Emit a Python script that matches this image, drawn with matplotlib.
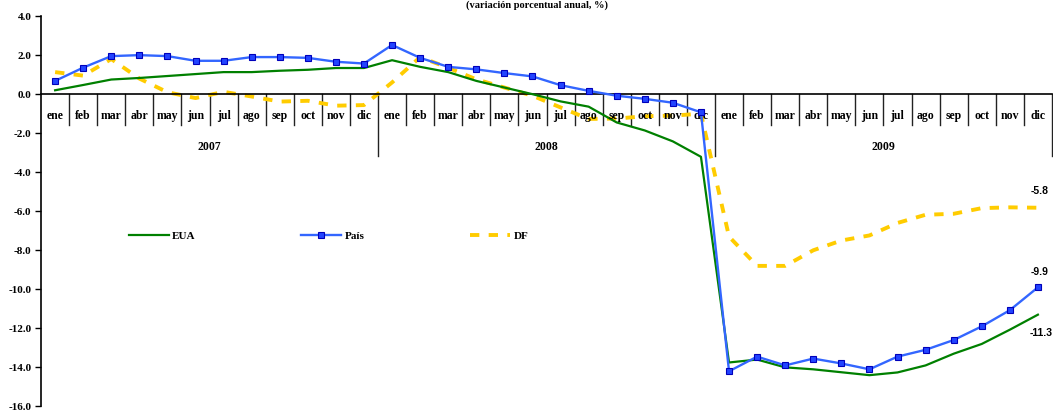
import matplotlib
matplotlib.use("Agg")
import matplotlib.pyplot as plt

# Data (variacion anual, %)
months = ["ene", "feb", "mar", "abr", "may", "jun", "jul", "ago", "sep", "oct", "nov", "dic"]
years = ["2007", "2008", "2009"]

eua = [0.20, 0.47, 0.75, 0.83, 0.93, 1.03, 1.13, 1.13, 1.20, 1.25, 1.34, 1.34,
       1.74, 1.40, 1.13, 0.68, 0.34, 0.00, -0.37, -0.64, -1.45, -1.86, -2.42, -3.21,
       -13.75, -13.60, -14.00, -14.10, -14.25, -14.40, -14.26, -13.90, -13.30, -12.80, -12.07, -11.30]

pais = [0.68, 1.36, 1.95, 2.00, 1.95, 1.71, 1.71, 1.90, 1.90, 1.86, 1.66, 1.57,
        2.52, 1.86, 1.40, 1.27, 1.08, 0.91, 0.46, 0.17, -0.08, -0.24, -0.44, -0.93,
        -14.20, -13.45, -13.90, -13.55, -13.80, -14.10, -13.45, -13.10, -12.60, -11.90, -11.07, -9.90]

df = [1.13, 0.95, 1.80, 0.80, 0.10, -0.20, 0.12, -0.12, -0.38, -0.34, -0.59, -0.56,
      0.60, 1.90, 1.35, 0.76, 0.34, -0.08, -0.68, -1.27, -1.25, -1.13, -1.10, -1.00,
      -7.30, -8.80, -8.80, -8.00, -7.50, -7.24, -6.60, -6.18, -6.13, -5.84, -5.80, -5.82]

end_labels = ["-5.8", "-9.9", "-11.3"]

serif = "Liberation Serif"

fig = plt.figure(figsize=(10.53, 4.13), dpi=100)
ax = fig.add_axes([0.039, 0.016, 0.960, 0.945])

x = list(range(len(eua)))
ax.plot(x, eua, color="#008000", lw=1.6, label="EUA", zorder=3)
ax.plot(x, pais, color="#3366ff", lw=1.7, marker="s", markersize=5,
        markerfacecolor="#2244ff", markeredgecolor="#0000bb", markeredgewidth=0.8,
        label="País", zorder=4)
ax.plot(x, df, color="#ffcc00", lw=2.8, linestyle=(0, (2.4, 2.4)), label="DF", zorder=2)

ax.set_xlim(-0.5, len(eua) - 0.5)
ax.set_ylim(-16, 4)
ax.set_yticks(range(-16, 5, 2))
ax.set_yticklabels([f"{v:.1f}" for v in range(-16, 5, 2)],
                   fontfamily=serif, fontweight="bold", fontsize=8)
ax.tick_params(axis="y", direction="out", length=4, width=1, pad=3)

for s in ["top", "right"]:
    ax.spines[s].set_visible(False)
ax.spines["bottom"].set_position(("data", 0))
ax.spines["left"].set_linewidth(1.2)
ax.spines["bottom"].set_linewidth(1.2)
ax.set_xticks([])

# month labels and separators
for i in range(len(eua)):
    ax.text(i, -1.12, months[i % 12], ha="center", va="center",
            fontfamily=serif, fontweight="bold", fontsize=8.5)
for i in range(1, len(eua) + 1):
    bottom = -3.15 if i % 12 == 0 else -1.57
    ax.plot([i - 0.5, i - 0.5], [0, bottom], color="#222222", lw=1.0,
            clip_on=False, zorder=1)
for k, yr in enumerate(years):
    ax.text(12 * k + 5.5, -2.7, yr, ha="center", va="center",
            fontfamily=serif, fontweight="bold", fontsize=8.5)

# end labels
last = len(eua) - 1
ax.text(last + 0.05, df[-1] + 0.85, end_labels[0], ha="center", va="center",
        fontfamily="Liberation Sans", fontweight="bold", fontsize=7.5)
ax.text(last + 0.05, pais[-1] + 0.8, end_labels[1], ha="center", va="center",
        fontfamily="Liberation Sans", fontweight="bold", fontsize=7.5)
ax.text(last + 0.1, eua[-1] - 0.95, end_labels[2], ha="center", va="center",
        fontfamily="Liberation Sans", fontweight="bold", fontsize=7.5, clip_on=False)

# title (cut off at the top in the original)
fig.text(0.51, 0.998, "(variación porcentual anual, %)", ha="center", va="top",
         fontfamily=serif, fontweight="bold", fontsize=7.5)

ax.legend(loc="upper left", bbox_to_anchor=(0.077, 0.475), ncol=3, frameon=False,
          handlelength=3.6, columnspacing=9.5, handletextpad=0.3,
          prop={"family": serif, "weight": "bold", "size": 8})

fig.savefig("out.png", dpi=100)
